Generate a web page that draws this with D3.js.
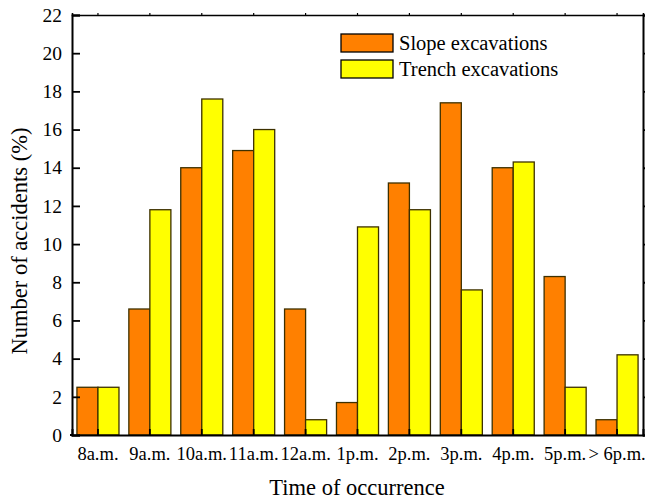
<!DOCTYPE html>
<html><head><meta charset="utf-8">
<script src="https://cdn.jsdelivr.net/npm/d3@7"></script>
<style>body{margin:0;background:#fff}svg{display:block}</style>
</head><body>
<svg id="c" width="645" height="502" font-family="Liberation Serif"></svg>
<script>
const categories = ["8a.m.","9a.m.","10a.m.","11a.m.","12a.m.","1p.m.","2p.m.","3p.m.","4p.m.","5p.m.","> 6p.m."];
const slope = [2.5,6.6,14.0,14.9,6.6,1.7,13.2,17.4,14.0,8.3,0.8];
const trench = [2.5,11.8,17.6,16.0,0.8,10.9,11.8,7.6,14.3,2.5,4.2];
const seriesNames = ["Slope excavations","Trench excavations"];
const yTicks = [0,2,4,6,8,10,12,14,16,18,20,22];

const FONT = "Liberation Serif";
const svg = d3.select("#c");
const L=72, R=643, T=15, B=435;
const x = d3.scaleBand().domain(categories).range([L,R]).paddingInner(0.19).paddingOuter(0.095);
const xs = d3.scaleBand().domain([0,1]).range([0,x.bandwidth()]);
const y = d3.scaleLinear().domain([0,22]).range([B,T]);
const colors = ["#FF8000","#FFFF00"];
const stroke = "#3d3000";

const data = categories.map((c,i)=>({c, v:[slope[i],trench[i]]}));
const g = svg.append("g");
data.forEach(d=>{
  d.v.forEach((v,j)=>{
    g.append("rect").attr("x",x(d.c)+xs(j)).attr("y",y(v)).attr("width",xs.bandwidth()).attr("height",B-y(v))
     .attr("fill",colors[j]).attr("stroke",stroke).attr("stroke-width",1.3);
  });
});

// left axis
const ya = svg.append("g").attr("transform",`translate(${L},0)`).call(d3.axisLeft(y).tickValues(yTicks).tickSize(-8).tickPadding(10));
ya.selectAll("text").attr("font-size",19.5).attr("fill","#000");
// right axis
const yr = svg.append("g").attr("transform",`translate(${R},0)`).call(d3.axisRight(y).tickValues(yTicks).tickSize(4).tickFormat(""));
// bottom axis
const xa = svg.append("g").attr("transform",`translate(0,${B})`).call(d3.axisBottom(x).tickSize(-6).tickPadding(12));
xa.selectAll("text").attr("font-size",18.5).attr("fill","#000");
// top axis
const xt = svg.append("g").attr("transform",`translate(0,${T})`).call(d3.axisTop(x).tickSize(2).tickFormat(""));
[ya,yr,xa,xt].forEach(a=>{
  a.attr("font-family",FONT);
  a.select(".domain").attr("stroke","#000").attr("stroke-width",2);
  a.selectAll(".tick line").attr("stroke","#000").attr("stroke-width",1.8);
});
xt.select(".domain").attr("stroke-width",1.6);
xt.selectAll(".tick line").attr("stroke-width",1.2);
// left outward extension of 0 tick
svg.append("line").attr("x1",L-2).attr("x2",L).attr("y1",B).attr("y2",B).attr("stroke","#000").attr("stroke-width",2);

// titles
svg.append("text").attr("x",357).attr("y",495).attr("text-anchor","middle").attr("font-family",FONT).attr("font-size",22.5).text("Time of occurrence");
svg.append("text").attr("transform",`translate(27,241) rotate(-90)`).attr("text-anchor","middle").attr("font-family",FONT).attr("font-size",22.5).text("Number of accidents (%)");

// legend
const lg = svg.append("g");
seriesNames.forEach((n,i)=>{
  lg.append("rect").attr("x",341).attr("y",34+i*26).attr("width",52).attr("height",18).attr("fill",colors[i]).attr("stroke","#000").attr("stroke-width",1.3);
  lg.append("text").attr("x",399).attr("y",50+i*26).attr("font-family",FONT).attr("font-size",20.5).text(n);
});
</script>
</body></html>
